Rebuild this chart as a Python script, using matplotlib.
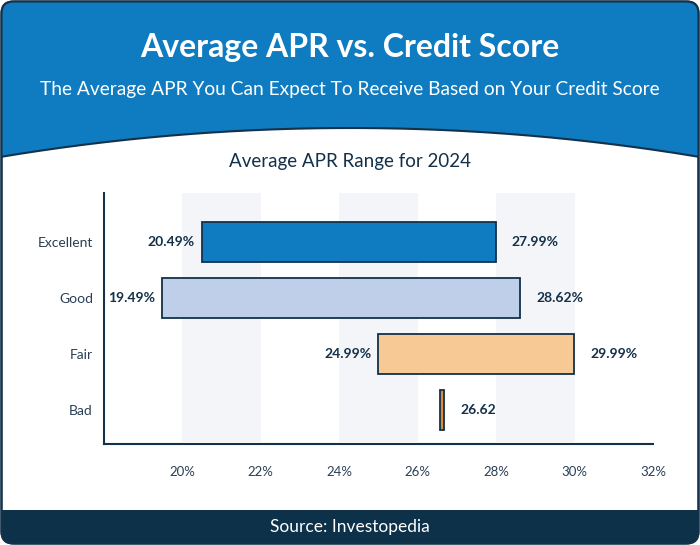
import numpy as np
import matplotlib
matplotlib.use("Agg")
import matplotlib.pyplot as plt
from matplotlib.patches import FancyBboxPatch, Polygon, Rectangle

plt.rcParams["font.family"] = ["Lato", "DejaVu Sans"]

categories = ["Excellent", "Good", "Fair", "Bad"]
low = [20.49, 19.49, 24.99, 26.62]
high = [27.99, 28.62, 29.99, 26.62]
low_labels = ["20.49%", "19.49%", "24.99%", ""]
high_labels = ["27.99%", "28.62%", "29.99%", "26.62"]
colors = ["#0f7bc0", "#bfcfe9", "#f6c995", "#e08a35"]
xticks = [20, 22, 24, 26, 28, 30, 32]
bands = [(20, 22), (24, 26), (28, 30)]

navy = "#13314a"
blue = "#0f7bc0"
footer = "#0c3149"

fig = plt.figure(figsize=(7, 5.45), dpi=100)

# background card, header and footer drawn in pixel coords
bg = fig.add_axes([0, 0, 1, 1], zorder=0)
bg.set_xlim(0, 700)
bg.set_ylim(545, 0)
bg.axis("off")

card = FancyBboxPatch((1.5, 1.5), 697, 542, boxstyle="round,pad=0,rounding_size=12",
                      facecolor="white", edgecolor=navy, linewidth=1.5, zorder=1)
bg.add_patch(card)

R = 2126.0
xs = np.linspace(0, 700, 200)
ys = 128 + (R - np.sqrt(R**2 - (xs - 350) ** 2))
head_pts = np.vstack([[[0, 0], [700, 0]], np.column_stack([xs[::-1], ys[::-1]])])
head = Polygon(head_pts, closed=True, facecolor=blue, edgecolor="none", zorder=2)
bg.add_patch(head)
head.set_clip_path(card)
curve, = bg.plot(xs, ys, color=navy, lw=1.5, zorder=3)
curve.set_clip_path(card)

foot = Rectangle((0, 510), 700, 40, facecolor=footer, edgecolor="none", zorder=2)
bg.add_patch(foot)
foot.set_clip_path(card)
# redraw outline on top
bg.add_patch(FancyBboxPatch((1.5, 1.5), 697, 542, boxstyle="round,pad=0,rounding_size=12",
                            facecolor="none", edgecolor=navy, linewidth=1.5, zorder=4))

bg.text(350, 48, "Average APR vs. Credit Score", color="white", fontsize=23,
        fontweight="bold", ha="center", va="center", zorder=5)
bg.text(350, 89, "The Average APR You Can Expect To Receive Based on Your Credit Score",
        color="white", fontsize=13.8, ha="center", va="center", zorder=5)
bg.text(350, 161, "Average APR Range for 2024", color=navy, fontsize=13.5,
        ha="center", va="center", zorder=5)
bg.text(350, 527, "Source: Investopedia", color="white", fontsize=12.5,
        ha="center", va="center", zorder=5)

# main chart
ax = fig.add_axes([104 / 700, 101 / 545, 549 / 700, 251 / 545], zorder=2)
ax.patch.set_alpha(0)
y = np.arange(len(categories))[::-1]

for a, b in bands:
    ax.axvspan(a, b, ymin=0.008, ymax=1, color="#f3f5f8", lw=0, zorder=0)

for yi, lo, hi, c, ll, hl in zip(y, low, high, colors, low_labels, high_labels):
    w = hi - lo
    left = lo
    if w < 0.1:
        left = (lo + hi) / 2 - 0.05
        w = 0.1
    ax.barh(yi, w, left=left, height=0.73, color=c, edgecolor=navy, linewidth=1.3, zorder=3)
    if ll:
        ax.annotate(ll, (left, yi), xytext=(-5, 0), textcoords="offset points",
                    ha="right", va="center", fontsize=10, fontweight="bold", color=navy)
    ax.annotate(hl, (left + w, yi), xytext=(11.5, 0), textcoords="offset points",
                ha="left", va="center", fontsize=10, fontweight="bold", color=navy)

ax.set_xlim(18, 32)
ax.set_ylim(-0.607, 3.875)
ax.set_yticks(y)
ax.set_yticklabels(categories)
ax.set_xticks(xticks)
ax.set_xticklabels([f"{t}%" for t in xticks])
ax.tick_params(length=0, colors="#2a3f55", labelsize=10)
ax.tick_params(axis="x", pad=16, labelsize=9.5)
ax.tick_params(axis="y", pad=8)
for s in ["top", "right"]:
    ax.spines[s].set_visible(False)
for s in ["left", "bottom"]:
    ax.spines[s].set_color(navy)
    ax.spines[s].set_linewidth(1.5)

fig.savefig("out.png", dpi=100)
